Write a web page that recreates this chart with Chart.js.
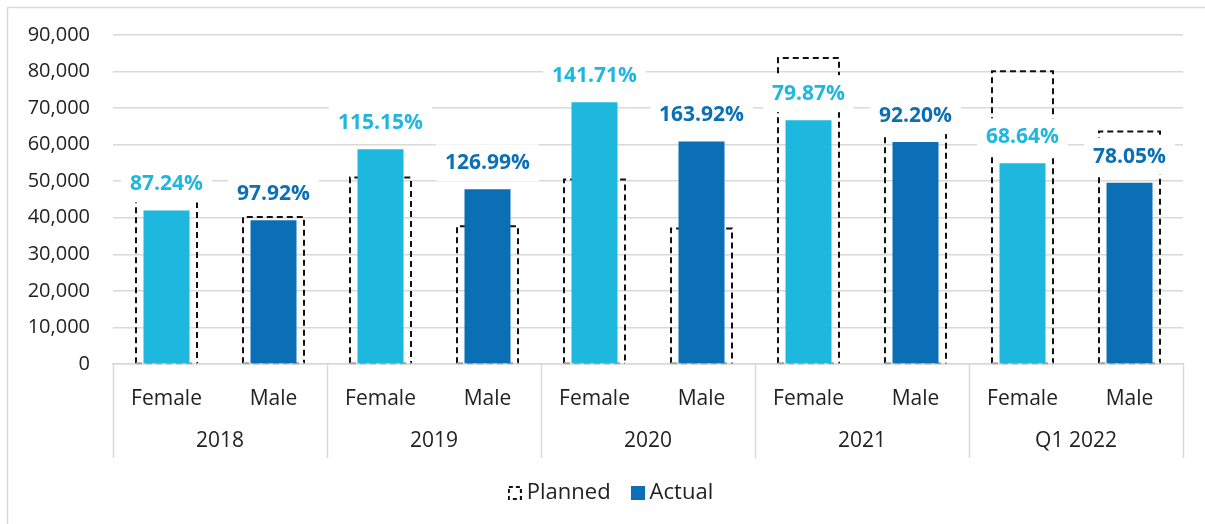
<!DOCTYPE html>
<html>
<head>
<meta charset="utf-8">
<script src="https://cdn.jsdelivr.net/npm/chart.js@4.4.1/dist/chart.umd.min.js"></script>
<style>
  html, body { margin: 0; padding: 0; background: #fff; }
  #wrap { width: 1205px; height: 524px; }
</style>
</head>
<body>
<div id="wrap"><canvas id="chart"></canvas></div>
<script>
const years = ['2018', '2019', '2020', '2021', 'Q1 2022'];
const genders = ['Female', 'Male'];
const planned = [48100, 40200, 51000, 37700, 50500, 37100, 83700, 65800, 80100, 63600];
const actual = [42000, 39300, 58750, 47800, 71600, 60900, 66700, 60700, 54900, 49600];
const pctLabels = ['87.24%', '97.92%', '115.15%', '126.99%', '141.71%', '163.92%', '79.87%', '92.20%', '68.64%', '78.05%'];

const FEMALE = '#1eb7de';
const MALE = '#0b6fb5';
const FONT = "'Open Sans', sans-serif";

const labels = [];
years.forEach(() => genders.forEach(g => labels.push(g)));
const barColors = labels.map(g => g === 'Female' ? FEMALE : MALE);

// legend icons
function iconCanvas(dashed) {
    const c = document.createElement('canvas');
    c.width = 14; c.height = 14;
    const x = c.getContext('2d');
    if (dashed) {
        x.strokeStyle = '#111';
        x.lineWidth = 2;
        x.setLineDash([4, 3]);
        x.strokeRect(1, 1, 12, 12);
    } else {
        x.fillStyle = MALE;
        x.fillRect(0, 0, 14, 14);
    }
    return c;
}
const plannedIcon = iconCanvas(true);
const actualIcon = iconCanvas(false);

const framePlugin = {
    id: 'frame',
    afterLayout(chart) {
        // legend sits a little right of the canvas centre
        chart.legend.left += 22;
        chart.legend.right += 22;
    },
    beforeDraw(chart) {
        const ctx = chart.ctx;
        ctx.save();
        ctx.strokeStyle = '#d9d9d9';
        ctx.lineWidth = 1.5;
        ctx.beginPath();
        ctx.moveTo(7.5, chart.height);
        ctx.lineTo(7.5, 7.5);
        ctx.lineTo(chart.width, 7.5);
        ctx.stroke();
        ctx.restore();
    },
    afterDraw(chart) {
        // group labels and separators under the x axis
        const ctx = chart.ctx;
        const xs = chart.scales.x;
        const step = xs.getPixelForValue(1) - xs.getPixelForValue(0);
        const top = chart.chartArea.bottom;
        ctx.save();
        ctx.strokeStyle = '#d9d9d9';
        ctx.lineWidth = 1.5;
        for (let g = 0; g <= years.length; g++) {
            const px = Math.round(xs.getPixelForValue(g * genders.length) - step / 2) + 0.5;
            ctx.beginPath();
            ctx.moveTo(px, top);
            ctx.lineTo(px, top + 94);
            ctx.stroke();
        }
        ctx.fillStyle = '#222';
        ctx.font = '21px ' + FONT;
        ctx.textAlign = 'center';
        ctx.textBaseline = 'middle';
        years.forEach((y, g) => {
            const a = xs.getPixelForValue(g * 2);
            const b = xs.getPixelForValue(g * 2 + 1);
            ctx.fillText(y, (a + b) / 2, top + 77);
        });
        ctx.restore();
    }
};

const plannedBoxPlugin = {
    id: 'plannedBox',
    beforeDatasetsDraw(chart) {
        const ctx = chart.ctx;
        const meta = chart.getDatasetMeta(0);
        ctx.save();
        ctx.lineWidth = 2;
        ctx.setLineDash([6, 4]);
        meta.data.forEach(el => {
            const l = el.x - el.width / 2, r = el.x + el.width / 2;
            ctx.strokeStyle = '#111';
            ctx.beginPath();
            ctx.moveTo(l, el.base);
            ctx.lineTo(l, el.y);
            ctx.lineTo(r, el.y);
            ctx.lineTo(r, el.base);
            ctx.stroke();
            ctx.strokeStyle = '#a6a6a6';
            ctx.beginPath();
            ctx.moveTo(l, el.base);
            ctx.lineTo(r, el.base);
            ctx.stroke();
        });
        ctx.restore();
    },
    afterDatasetsDraw(chart) {
        const ctx = chart.ctx;
        const meta = chart.getDatasetMeta(1);
        ctx.save();
        ctx.font = 'bold 21px ' + FONT;
        ctx.textAlign = 'center';
        ctx.textBaseline = 'middle';
        meta.data.forEach((el, i) => {
            const t = pctLabels[i];
            const w = ctx.measureText(t).width + 18;
            const cy = el.y - 26;
            ctx.fillStyle = '#fff';
            ctx.fillRect(el.x - w / 2, cy - 19, w, 37);
            ctx.fillStyle = barColors[i];
            ctx.fillText(t, el.x, cy);
        });
        ctx.restore();
    }
};

new Chart(document.getElementById('chart'), {
    type: 'bar',
    data: {
        labels: labels,
        datasets: [{
            label: 'Planned',
            data: planned,
            backgroundColor: 'rgba(0,0,0,0)',
            borderWidth: 0,
            grouped: false,
            categoryPercentage: 1,
            barPercentage: 0.57
        }, {
            label: 'Actual',
            data: actual,
            backgroundColor: barColors,
            borderWidth: 0,
            grouped: false,
            categoryPercentage: 1,
            barPercentage: 0.43
        }]
    },
    options: {
        responsive: true,
        maintainAspectRatio: false,
        animation: false,
        layout: { padding: { top: 31, right: 22, bottom: 10, left: 0 } },
        plugins: {
            tooltip: { enabled: false },
            legend: {
                position: 'bottom',
                labels: {
                    usePointStyle: true,
                    boxWidth: 2,
                    padding: 26,
                    color: '#222',
                    font: { family: FONT, size: 22 },
                    generateLabels: () => [
                        { text: 'Planned', pointStyle: plannedIcon, datasetIndex: 0, lineWidth: 0, fontColor: '#222' },
                        { text: 'Actual', pointStyle: actualIcon, datasetIndex: 1, lineWidth: 0, fontColor: '#222' }
                    ]
                }
            }
        },
        scales: {
            x: {
                grid: { display: false, drawTicks: false },
                border: { color: '#d9d9d9', width: 1.5 },
                ticks: { color: '#222', font: { family: FONT, size: 21 }, padding: 22, maxRotation: 0 },
                afterFit: s => { s.height = 92; }
            },
            y: {
                min: 0,
                max: 90000,
                grid: { color: '#d9d9d9', lineWidth: 1.5, drawTicks: false },
                border: { display: false },
                ticks: {
                    stepSize: 10000,
                    padding: 23,
                    color: '#222',
                    font: { family: FONT, size: 20 },
                    callback: v => v.toLocaleString('en-US')
                },
                afterFit: s => { s.width = 113; }
            }
        }
    },
    plugins: [framePlugin, plannedBoxPlugin]
});
</script>
</body>
</html>
